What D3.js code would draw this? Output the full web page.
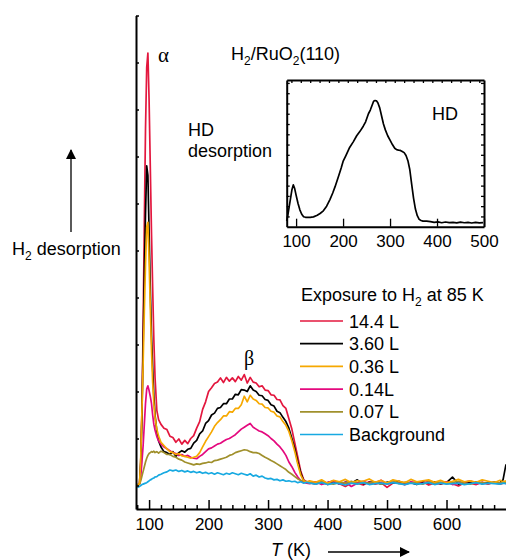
<!DOCTYPE html>
<html>
<head>
<meta charset="utf-8">
<script src="https://cdn.jsdelivr.net/npm/d3@7"></script>
<style>
  body { margin: 0; background: #fff; }
  text { font-family: "Liberation Sans", Arial, sans-serif; fill: #000; }
  .greek { font-family: "Liberation Serif", "Times New Roman", serif; }
</style>
</head>
<body>
<div id="chart"></div>
<script>
// ---- data (arbitrary intensity units) ----
const temps = [80, 84, 86, 88, 90, 92, 94, 96, 98, 100, 102, 104, 106, 108, 110,
  113, 116, 120,
  125, 130, 135, 140, 145, 150, 155, 160, 165, 170, 175, 180, 185, 190, 195, 200, 205, 210, 215, 220,
  225, 230, 235, 240, 245, 250, 255, 260, 265, 270, 275, 280, 285, 290, 295, 300, 305, 310, 315, 320,
  325, 330, 335, 340, 345, 350, 355, 360, 365,
  370, 380, 390, 400, 410, 420, 430, 440, 450, 460, 470, 480, 490, 500, 510, 520, 530, 540, 550, 560,
  570, 580, 590, 600, 610, 620, 630, 640, 650, 660, 670, 680, 690, 695, 700];

const exp144 = [0.0, 0.05, 0.5, 1.6, 3.4, 5.6, 7.6, 8.9, 9.2, 8.2, 6.8, 5.4, 4.2, 3.1, 2.3,
  1.6, 1.4, 1.3,
  1.22, 1.19, 1.05, 1.02, 0.92, 0.99, 0.88, 0.96, 0.89, 1.0, 1.06, 1.22, 1.36, 1.62, 1.78, 2.0, 2.08, 2.17, 2.2, 2.29,
  2.19, 2.3, 2.22, 2.29, 2.21, 2.32, 2.24, 2.36, 2.18, 2.3, 2.2, 2.18, 2.1, 2.12, 2.03, 2.02, 1.93, 1.92, 1.83, 1.82,
  1.7, 1.64, 1.42, 1.2, 0.9, 0.6, 0.3, 0.12, 0.08,
  0.06, 0.03, 0.08, 0.02, 0.07, 0.04, -0.02, 0.06, 0.05, 0.01, 0.08, 0.03, 0.06, -0.04, 0.05, 0.07, 0.02, 0.06, 0.04, 0.08,
  0.01, 0.05, 0.03, 0.07, 0.04, -0.01, 0.06, 0.05, 0.02, 0.07, 0.04, 0.06, 0.03, 0.05, 0.06];

const exp360 = [0.0, 0.05, 0.5, 1.5, 3.0, 4.5, 5.8, 6.8, 6.6, 5.4, 4.2, 3.2, 2.5, 1.9, 1.5,
  1.15, 0.95, 0.82,
  0.72, 0.7, 0.66, 0.72, 0.62, 0.7, 0.74, 0.71, 0.77, 0.79, 0.9, 0.96, 1.1, 1.16, 1.32, 1.38, 1.5, 1.54, 1.64, 1.66,
  1.74, 1.74, 1.84, 1.84, 1.94, 1.93, 2.04, 2.03, 2.0, 2.12, 2.03, 2.0, 1.92, 1.91, 1.83, 1.81, 1.72, 1.69, 1.58, 1.55,
  1.45, 1.36, 1.22, 1.0, 0.78, 0.5, 0.26, 0.1, 0.06,
  0.05, 0.08, 0.04, 0.06, 0.09, 0.03, 0.07, 0.05, 0.12, 0.04, 0.06, 0.08, 0.03, 0.07, 0.05, 0.09, 0.04, 0.06, 0.02, 0.07,
  0.05, 0.08, 0.04, 0.06, 0.18, 0.03, 0.07, 0.05, 0.08, 0.04, 0.06, 0.05, 0.06, 0.12, 0.45];

const exp036 = [0.0, 0.05, 0.6, 1.6, 2.6, 3.7, 4.7, 5.5, 5.6, 4.8, 3.8, 2.9, 2.2, 1.75, 1.45,
  1.2, 1.05, 0.92,
  0.85, 0.78, 0.72, 0.7, 0.66, 0.68, 0.63, 0.62, 0.6, 0.58, 0.6, 0.62, 0.7, 0.82, 0.94, 1.04, 1.14, 1.26, 1.34, 1.4,
  1.48, 1.48, 1.57, 1.56, 1.64, 1.64, 1.72, 1.9, 1.78, 1.92, 1.84, 1.81, 1.74, 1.73, 1.66, 1.65, 1.58, 1.56, 1.48, 1.46,
  1.36, 1.28, 1.15, 0.95, 0.72, 0.45, 0.22, 0.1, 0.08,
  0.1, 0.07, 0.12, 0.05, 0.11, 0.08, 0.13, 0.06, 0.1, 0.09, 0.14, 0.07, 0.11, 0.05, 0.12, 0.09, 0.06, 0.13, 0.08, 0.1,
  0.12, 0.07, 0.11, 0.06, 0.09, 0.13, 0.08, 0.1, 0.07, 0.12, 0.09, 0.06, 0.11, 0.08, 0.1];

const exp014 = [0.0, 0.03, 0.2, 0.5, 0.85, 1.3, 1.75, 2.05, 2.12, 2.02, 1.9, 1.75, 1.5, 1.3, 1.18,
  1.04, 0.95, 0.88,
  0.82, 0.78, 0.74, 0.7, 0.68, 0.64, 0.66, 0.62, 0.64, 0.6, 0.58, 0.57, 0.62, 0.66, 0.72, 0.78, 0.8, 0.84, 0.88, 0.9,
  0.94, 0.98, 1.0, 1.04, 1.08, 1.14, 1.2, 1.24, 1.28, 1.32, 1.24, 1.2, 1.16, 1.14, 1.1, 1.06, 1.0, 0.95, 0.88, 0.82,
  0.74, 0.64, 0.5, 0.4, 0.28, 0.18, 0.1, 0.07, 0.05,
  0.04, 0.08, 0.02, 0.06, 0.1, 0.03, 0.07, -0.02, 0.05, 0.09, 0.04, 0.06, 0.11, 0.03, 0.07, 0.05, 0.02, 0.08, 0.06, 0.04,
  0.09, 0.03, 0.06, 0.08, 0.02, 0.05, 0.07, 0.1, 0.04, 0.06, 0.03, 0.08, 0.05, 0.07, 0.04];

const exp007 = [0.0, 0.03, 0.1, 0.2, 0.3, 0.4, 0.5, 0.58, 0.64, 0.68, 0.7, 0.72, 0.71, 0.73, 0.7,
  0.72, 0.69, 0.73,
  0.7, 0.66, 0.66, 0.62, 0.6, 0.56, 0.54, 0.5, 0.48, 0.46, 0.44, 0.46, 0.45, 0.47, 0.48, 0.5, 0.49, 0.53, 0.54, 0.56,
  0.58, 0.6, 0.64, 0.66, 0.7, 0.72, 0.74, 0.76, 0.75, 0.72, 0.7, 0.7, 0.68, 0.64, 0.6, 0.57, 0.53, 0.5, 0.46, 0.42,
  0.38, 0.34, 0.28, 0.24, 0.19, 0.14, 0.11, 0.09, 0.07,
  0.06, 0.04, 0.08, 0.05, 0.03, 0.07, 0.05, 0.09, 0.04, 0.06, 0.05, 0.08, 0.03, 0.06, 0.1, 0.04, 0.07, 0.05, 0.06, 0.03,
  0.08, 0.05, 0.07, 0.04, 0.06, 0.09, 0.05, 0.03, 0.07, 0.06, 0.04, 0.08, 0.05, 0.06, 0.07];

const background = [-0.04, -0.02, 0.0, 0.02, 0.03, 0.04, 0.05, 0.06, 0.08, 0.1, 0.12, 0.13, 0.15, 0.16, 0.18,
  0.19, 0.22, 0.24,
  0.27, 0.29, 0.33, 0.31, 0.33, 0.3, 0.32, 0.29, 0.31, 0.28, 0.3, 0.27, 0.29, 0.26, 0.28, 0.25, 0.27, 0.24, 0.27, 0.25,
  0.23, 0.26, 0.24, 0.27, 0.25, 0.23, 0.26, 0.24, 0.22, 0.25, 0.2, 0.22, 0.18, 0.2, 0.16, 0.14, 0.15, 0.12, 0.13, 0.1,
  0.12, 0.09, 0.1, 0.08, 0.09, 0.06, 0.08, 0.05, 0.07,
  0.05, 0.03, 0.06, 0.02, 0.05, 0.04, 0.01, 0.05, 0.03, 0.06, 0.02, 0.04, 0.05, 0.03, 0.06, 0.04, 0.02, 0.05, 0.03, 0.04,
  0.06, 0.02, 0.05, 0.03, 0.04, 0.05, 0.02, 0.04, 0.06, 0.03, 0.05, 0.04, 0.03, 0.05, 0.04];

const legendLabels = ["14.4 L", "3.60 L", "0.36 L", "0.14L", "0.07 L", "Background"];
const legendColors = ["#e3173e", "#000000", "#f6a800", "#e4097e", "#a0902c", "#17a9e1"];
const seriesValues = [exp144, exp360, exp036, exp014, exp007, background];
const drawOrder = [0, 1, 3, 4, 2, 5];

const xTickLabels = [100, 200, 300, 400, 500, 600];
const yTicks = [0, 1, 2, 3, 4, 5, 6, 7, 8, 9, 10];

// inset: HD desorption
const hdTemps = [80, 82, 85, 88, 91, 94, 97, 100, 104, 108, 112, 116, 120, 125, 130, 137, 145, 151, 158, 165,
  172, 178, 183, 190, 196, 200, 206, 214, 222, 229, 236, 243, 248, 254, 258, 262, 265, 268, 271, 274,
  278, 282, 286, 290, 295, 300, 305, 310, 314, 318, 322, 326, 330, 334, 338, 342, 346, 350, 354, 358,
  362, 366, 370, 378, 386, 394, 402, 410, 418, 426, 434, 442, 450, 458, 466, 474, 482, 490, 498];
const hdValues = [0.4, 0.7, 1.3, 1.9, 2.5, 2.85, 2.6, 2.15, 1.6, 1.15, 0.85, 0.68, 0.64, 0.63, 0.64, 0.67, 0.78, 0.9, 1.08, 1.4,
  1.85, 2.3, 2.73, 3.4, 4.0, 4.45, 4.85, 5.4, 5.8, 6.2, 6.5, 6.85, 7.15, 7.7, 7.95, 8.3, 8.55, 8.6, 8.58, 8.45,
  8.1, 7.55, 7.0, 6.6, 6.2, 5.9, 5.6, 5.35, 5.25, 5.22, 5.2, 5.13, 5.05, 4.85, 4.5, 3.9, 2.9, 1.95, 1.2, 0.75,
  0.5, 0.42, 0.38, 0.38, 0.35, 0.3, 0.33, 0.27, 0.32, 0.28, 0.3, 0.26, 0.31, 0.27, 0.29, 0.25, 0.3, 0.26, 0.28];
const insetTickLabels = [100, 200, 300, 400, 500];

// ---- layout ----
const W = 506, H = 560;
const svg = d3.select("#chart").append("svg")
  .attr("width", W).attr("height", H);

const defs = svg.append("defs");
defs.append("clipPath").attr("id", "plotclip")
  .append("rect").attr("x", 137).attr("y", 5).attr("width", W - 137).attr("height", 503);
defs.append("marker").attr("id", "head")
  .attr("viewBox", "0 0 10 10").attr("refX", 9).attr("refY", 5)
  .attr("markerWidth", 10).attr("markerHeight", 10)
  .attr("markerUnits", "userSpaceOnUse").attr("orient", "auto")
  .append("path").attr("d", "M0,0L10,5L0,10Z").attr("fill", "#000");

const x = d3.scaleLinear().domain([78, 700]).range([136, 506]);
const y = d3.scaleLinear().domain([-0.5, 10]).range([509, 15.5]);

// curves
const line = d3.line()
  .x((d, i) => x(temps[i]))
  .y(d => y(d));

const curves = svg.append("g").attr("clip-path", "url(#plotclip)");
drawOrder.forEach(k => {
  curves.append("path")
    .attr("d", line(seriesValues[k]))
    .attr("fill", "none")
    .attr("stroke", legendColors[k])
    .attr("stroke-width", 1.7)
    .attr("stroke-linejoin", "round");
});

// x axis
const xAxis = svg.append("g").attr("transform", "translate(0,509)")
  .call(d3.axisBottom(x).tickValues(xTickLabels).tickSize(-9).tickSizeOuter(0).tickPadding(9));
svg.append("g").attr("transform", "translate(0,509)")
  .call(d3.axisBottom(x).tickValues(d3.range(80, 700, 20).filter(v => v % 100 !== 0))
    .tickSize(-4).tickSizeOuter(0).tickFormat(""))
  .select(".domain").remove();
xAxis.selectAll("text").attr("font-size", 17).attr("font-family", "Liberation Sans, Arial, sans-serif");

// y axis
svg.append("g").attr("transform", "translate(136,0)")
  .call(d3.axisLeft(y).tickValues(yTicks).tickSize(-3).tickSizeOuter(0).tickFormat(""));

svg.selectAll(".domain").attr("stroke-width", 2);
svg.selectAll(".tick line").attr("stroke-width", 1.5);

// axis titles
const xt = svg.append("text").attr("x", 271).attr("y", 556).attr("font-size", 18);
xt.append("tspan").attr("font-style", "italic").text("T");
xt.append("tspan").text(" (K)");
svg.append("line").attr("x1", 328).attr("x2", 409).attr("y1", 552).attr("y2", 552)
  .attr("stroke", "#000").attr("stroke-width", 1.3).attr("marker-end", "url(#head)");

svg.append("line").attr("x1", 71).attr("x2", 71).attr("y1", 232).attr("y2", 150)
  .attr("stroke", "#000").attr("stroke-width", 1.3).attr("marker-end", "url(#head)");
const yt = svg.append("text").attr("x", 12).attr("y", 255).attr("font-size", 18);
yt.append("tspan").text("H");
yt.append("tspan").attr("font-size", 12).attr("dy", 5).text("2");
yt.append("tspan").attr("dy", -5).text(" desorption");

// annotations
svg.append("text").attr("class", "greek").attr("x", 158).attr("y", 62).attr("font-size", 21).text("α");
svg.append("text").attr("class", "greek").attr("x", 244).attr("y", 365).attr("font-size", 20).text("β");

const title = svg.append("text").attr("x", 231).attr("y", 60).attr("font-size", 18);
title.append("tspan").text("H");
title.append("tspan").attr("font-size", 12).attr("dy", 5).text("2");
title.append("tspan").attr("dy", -5).text("/RuO");
title.append("tspan").attr("font-size", 12).attr("dy", 5).text("2");
title.append("tspan").attr("dy", -5).text("(110)");

svg.append("text").attr("x", 188).attr("y", 136).attr("font-size", 18).text("HD");
svg.append("text").attr("x", 188).attr("y", 157).attr("font-size", 18).text("desorption");

// legend
const lt = svg.append("text").attr("x", 301).attr("y", 301).attr("font-size", 18);
lt.append("tspan").text("Exposure to H");
lt.append("tspan").attr("font-size", 12).attr("dy", 5).text("2");
lt.append("tspan").attr("dy", -5).text(" at 85 K");

const legend = svg.append("g").selectAll("g").data(legendLabels).join("g")
  .attr("transform", (d, i) => `translate(300,${321 + i * 22.7})`);
legend.append("line").attr("x1", 0).attr("x2", 43)
  .attr("stroke", (d, i) => legendColors[i]).attr("stroke-width", 1.7);
legend.append("text").attr("x", 49).attr("y", 6.5).attr("font-size", 18).text(d => d);

// ---- inset ----
const xi = d3.scaleLinear().domain([80, 500]).range([286.7, 484]);
const yi = d3.scaleLinear().domain([0, 10]).range([226.7, 80]);
const inset = svg.append("g");

inset.append("path")
  .attr("d", d3.line().x((d, i) => xi(hdTemps[i])).y(d => yi(d))(hdValues))
  .attr("fill", "none").attr("stroke", "#000").attr("stroke-width", 1.7)
  .attr("stroke-linejoin", "round");

const ib = inset.append("g").attr("transform", "translate(0,226.7)")
  .call(d3.axisBottom(xi).tickValues(insetTickLabels).tickSize(-8).tickSizeOuter(0).tickPadding(8));
ib.selectAll("text").attr("font-size", 17).attr("font-family", "Liberation Sans, Arial, sans-serif");
inset.append("g").attr("transform", "translate(0,80)")
  .call(d3.axisTop(xi).tickValues(d3.range(90, 500, 20)).tickSize(-3).tickSizeOuter(0).tickFormat(""));
inset.append("g").attr("transform", "translate(286.7,0)")
  .call(d3.axisLeft(yi).tickValues(d3.range(0.7, 10, 0.7)).tickSize(-3).tickSizeOuter(0).tickFormat(""));
inset.append("g").attr("transform", "translate(484,0)")
  .call(d3.axisRight(yi).tickValues(d3.range(0.7, 10, 0.7)).tickSize(-3).tickSizeOuter(0).tickFormat(""));
inset.selectAll(".domain").attr("stroke-width", 2);
inset.selectAll(".tick line").attr("stroke-width", 1.3);

inset.append("text").attr("x", 432).attr("y", 120).attr("font-size", 18).text("HD");
</script>
</body>
</html>
